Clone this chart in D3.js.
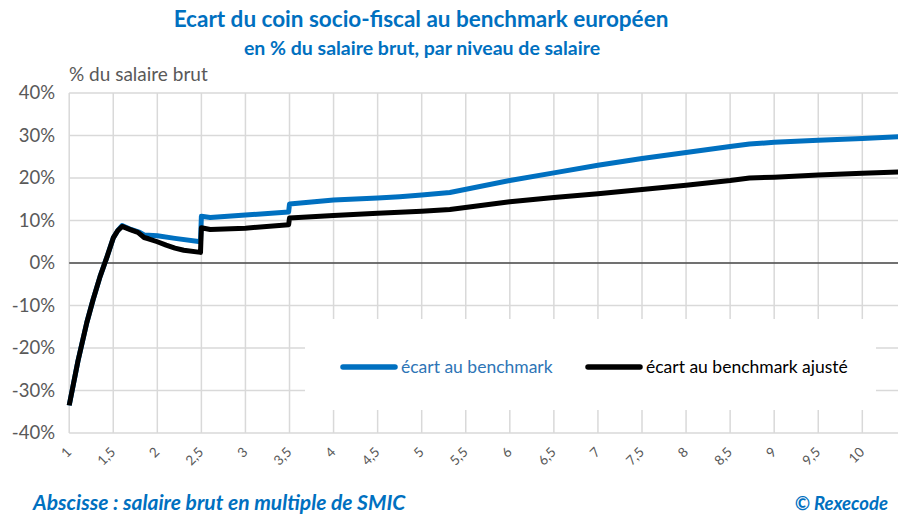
<!DOCTYPE html>
<html>
<head>
<meta charset="utf-8">
<script src="https://cdn.jsdelivr.net/npm/d3@7"></script>
<style>
  body { margin: 0; background: #fff; }
  svg { display: block; font-family: Lato, "Open Sans", sans-serif; }
  .grid line { stroke: #d9d9d9; stroke-width: 1.5; }
</style>
</head>
<body>
<svg id="chart" width="898" height="514"></svg>
<script>
// salaire brut en multiple de SMIC
const blueX = [1.0, 1.1, 1.2, 1.27, 1.35, 1.43, 1.5, 1.55, 1.6, 1.7, 1.8, 1.85, 2.0, 2.2, 2.49,
  2.5, 2.6, 3.0, 3.49, 3.5, 4.0, 4.5, 4.75, 5.0, 5.32, 6.0, 6.5, 7.0, 7.5, 8.0, 8.5, 8.72, 9.0, 9.5, 10.0, 10.42];
const blueY = [-33.5, -23, -14, -8.7, -3.2, 1.5, 5.9, 7.6, 8.8, 7.9, 7.2, 6.6, 6.4, 5.8, 5.0,
  11.0, 10.7, 11.3, 12.0, 13.9, 14.8, 15.3, 15.6, 16.0, 16.6, 19.4, 21.2, 23.0, 24.6, 26.0, 27.4, 28.0, 28.4, 28.9, 29.3, 29.7];

const blackX = [1.0, 1.1, 1.2, 1.27, 1.35, 1.43, 1.5, 1.55, 1.6, 1.7, 1.78, 1.85, 1.9, 2.0, 2.1, 2.2, 2.3, 2.49,
  2.5, 2.6, 3.0, 3.49, 3.5, 4.0, 4.5, 5.0, 5.32, 6.0, 6.5, 7.0, 7.5, 8.0, 8.5, 8.72, 9.0, 9.5, 10.0, 10.42];
const blackY = [-33.5, -23, -14, -8.7, -3.2, 1.5, 5.9, 7.6, 8.6, 7.8, 7.2, 6.0, 5.7, 5.0, 4.2, 3.5, 3.0, 2.5,
  8.3, 7.9, 8.2, 9.0, 10.6, 11.2, 11.7, 12.2, 12.6, 14.4, 15.4, 16.3, 17.3, 18.3, 19.4, 20.0, 20.2, 20.7, 21.1, 21.4];

const xTicks = d3.range(1, 10.01, 0.5);
const yTicks = [-40, -30, -20, -10, 0, 10, 20, 30, 40];

const seriesNames = ["écart au benchmark", "écart au benchmark ajusté"];
const seriesColors = ["#0070c0", "#000000"];

const svg = d3.select("#chart");
const blue = "#0070c0";
const grey = "#595959";

const x = d3.scaleLinear().domain([1, 10.405]).range([69.2, 898]);
const y = d3.scaleLinear().domain([-40, 40]).range([433, 93]);

/** Grid
------------------------------------------------------------*/
const grid = svg.append("g").attr("class", "grid");

grid.selectAll(".v")
  .data(xTicks)
  .enter().append("line")
  .attr("x1", d => x(d)).attr("x2", d => x(d))
  .attr("y1", y(40)).attr("y2", y(-40));

grid.selectAll(".h")
  .data(yTicks)
  .enter().append("line")
  .attr("x1", x(1)).attr("x2", 898)
  .attr("y1", d => y(d)).attr("y2", d => y(d));

// y labels
svg.append("g")
  .selectAll("text")
  .data(yTicks)
  .enter().append("text")
  .attr("x", 55)
  .attr("y", d => y(d))
  .attr("dy", "0.35em")
  .attr("text-anchor", "end")
  .attr("font-size", 18.5)
  .attr("fill", grey)
  .text(d => d + "%");

// x labels, rotated
svg.append("g")
  .selectAll("text")
  .data(xTicks)
  .enter().append("text")
  .attr("transform", d => `translate(${x(d) + 3},${453}) rotate(-45)`)
  .attr("text-anchor", "end")
  .attr("font-size", 13.5)
  .attr("fill", grey)
  .text(d => (d % 1 === 0 ? d : d.toFixed(1)).toString().replace(".", ","));

// zero line
svg.append("line")
  .attr("x1", x(1)).attr("x2", 898)
  .attr("y1", y(0)).attr("y2", y(0))
  .attr("stroke", "#000")
  .attr("stroke-width", 1.2);

/** Legend box (drawn under the curves)
------------------------------------------------------------*/
svg.append("rect")
  .attr("x", 305).attr("y", 319)
  .attr("width", 571).attr("height", 91)
  .attr("fill", "#fff");

/** Lines
------------------------------------------------------------*/
const line = d3.line()
  .x(d => x(d[0]))
  .y(d => y(d[1]));

const series = [
  d3.zip(blueX, blueY),
  d3.zip(blackX, blackY)
];

svg.append("g")
  .selectAll("path")
  .data(series)
  .enter().append("path")
  .attr("d", line)
  .attr("fill", "none")
  .attr("stroke", (d, i) => seriesColors[i])
  .attr("stroke-width", 5)
  .attr("stroke-linejoin", "round");

// legend entries
const legendPos = [341, 586];
const legend = svg.append("g")
  .selectAll("g")
  .data(seriesNames)
  .enter().append("g")
  .attr("transform", (d, i) => `translate(${legendPos[i]},367)`);

legend.append("line")
  .attr("x1", 2).attr("x2", 54)
  .attr("stroke", (d, i) => seriesColors[i])
  .attr("stroke-width", 5.5)
  .attr("stroke-linecap", "round");

legend.append("text")
  .attr("x", 60)
  .attr("dy", "0.35em")
  .attr("font-size", 17.5)
  .attr("fill", (d, i) => i === 0 ? "#2e75b6" : "#000")
  .text(d => d);

/** Texts
------------------------------------------------------------*/
svg.append("text")
  .attr("x", 421).attr("y", 27)
  .attr("text-anchor", "middle")
  .attr("font-size", 22.5)
  .attr("font-weight", "bold")
  .attr("fill", blue)
  .text("Ecart du coin socio-fiscal au benchmark européen");

svg.append("text")
  .attr("x", 422).attr("y", 55)
  .attr("text-anchor", "middle")
  .attr("font-size", 19.5)
  .attr("font-weight", "bold")
  .attr("fill", blue)
  .text("en % du salaire brut, par niveau de salaire");

svg.append("text")
  .attr("x", 69).attr("y", 81)
  .attr("font-size", 19)
  .attr("fill", grey)
  .text("% du salaire brut");

svg.append("text")
  .attr("x", 33).attr("y", 510)
  .attr("font-size", 21)
  .attr("font-weight", "bold")
  .attr("font-style", "italic")
  .attr("fill", blue)
  .text("Abscisse : salaire brut en multiple de SMIC");

svg.append("text")
  .attr("x", 888).attr("y", 510)
  .attr("text-anchor", "end")
  .attr("font-size", 18.5)
  .attr("font-weight", "bold")
  .attr("font-style", "italic")
  .attr("fill", blue)
  .text("© Rexecode");
</script>
</body>
</html>
